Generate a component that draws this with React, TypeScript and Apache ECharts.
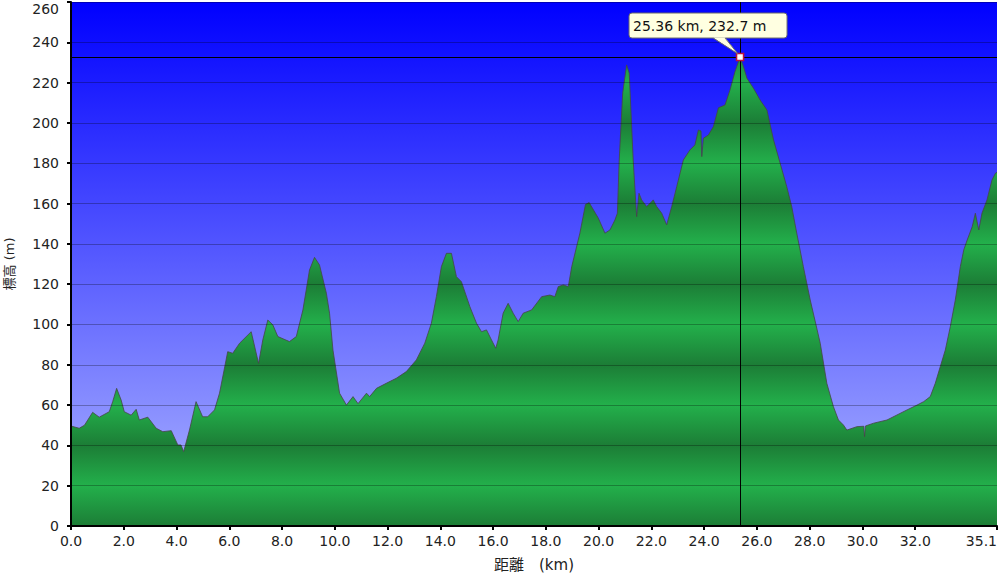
import React, { useEffect, useRef } from 'react';
import * as echarts from 'echarts';

// distance along the route (km)
const distKm = [
  0.0, 0.31, 0.51, 0.82, 1.07, 1.45, 1.58, 1.73, 1.9, 2.02, 2.28, 2.47, 2.59, 2.91, 3.23, 3.48, 3.8,
  4.05, 4.17, 4.27, 4.49, 4.74, 4.99, 5.18, 5.44, 5.63, 5.94, 6.13, 6.39, 6.83, 7.11, 7.27, 7.46,
  7.65, 7.84, 8.28, 8.54, 8.79, 9.04, 9.23, 9.42, 9.68, 9.8, 9.93, 10.18, 10.44, 10.69, 10.88, 11.2,
  11.32, 11.58, 11.95, 12.33, 12.71, 13.09, 13.41, 13.66, 13.85, 14.04, 14.23, 14.42, 14.61, 14.8,
  15.12, 15.37, 15.56, 15.75, 15.94, 16.1, 16.19, 16.38, 16.57, 16.76, 16.95, 17.14, 17.46, 17.84,
  18.15, 18.34, 18.47, 18.66, 18.85, 18.98, 19.29, 19.5, 19.64, 19.99, 20.24, 20.43, 20.62, 20.71,
  20.78, 20.91, 21.06, 21.16, 21.31, 21.44, 21.53, 21.63, 21.82, 21.95, 22.07, 22.2, 22.39, 22.58,
  22.77, 22.96, 23.21, 23.46, 23.65, 23.78, 23.88, 23.91, 23.97, 24.16, 24.35, 24.54, 24.79, 24.98,
  25.17, 25.36, 25.49, 25.62, 25.87, 26.12, 26.38, 26.63, 26.88, 27.13, 27.32, 27.51, 27.76, 28.02,
  28.4, 28.65, 28.9, 29.09, 29.28, 29.41, 29.79, 30.05, 30.08, 30.11, 30.42, 30.93, 31.31, 31.69,
  32.07, 32.32, 32.57, 32.76, 32.95, 33.14, 33.33, 33.52, 33.71, 33.84, 33.97, 34.16, 34.28, 34.41,
  34.53, 34.72, 34.91, 35.04, 35.1,
];

// elevation (m)
const elevM = [
  49.6, 48.5, 50, 56.4, 54, 56.7, 61.7, 68.3, 62.5, 56.7, 55, 57.9, 52.6, 54, 48.5, 46.8, 47.3,
  40.2, 40.2, 36.9, 47.6, 61.7, 54.2, 54.2, 57.6, 65.9, 86.5, 85.7, 90.7, 96.4, 80.7, 92.3, 102.2,
  99.8, 94, 91.5, 94, 107.2, 127, 133.3, 129.5, 115.5, 105.6, 87.3, 65.9, 60, 64.2, 60.7, 65.9,
  64.2, 68.3, 70.8, 73.3, 76.6, 82.4, 90.7, 100.6, 113.8, 128.7, 135.3, 135.3, 123.7, 121.2,
  108.8, 100.6, 96.4, 97.3, 92.3, 88.2, 92.3, 105.6, 110.5, 105.6, 101.4, 105.6, 107.2, 113.8,
  114.6, 113.8, 118.8, 119.6, 118.8, 128.7, 145.3, 159.5, 160.5, 152.7, 145.3, 146.9, 151.9, 155.2,
  181.6, 214.7, 228.8, 224.7, 181.6, 153.5, 165.1, 161.8, 158.5, 160.1, 161.8, 158.5, 155.2, 149.4,
  158.5, 168.4, 181.6, 186.6, 189.1, 196.5, 196, 183.3, 192.4, 194, 198.2, 207.5, 208.9, 216.4,
  225.5, 232.7, 228, 222.2, 217.2, 211.4, 206.4, 191.6, 180, 168.4, 158.5, 145.3, 128.7, 112.2,
  90.7, 70.8, 59.2, 52.6, 50.1, 47.6, 49.3, 49.5, 44.3, 49.6, 51, 52.6, 55.1, 57.6,
  60, 61.7, 64.2, 70.8, 79.1, 87.3, 98.9, 112.2, 128.7, 137, 141.9, 148.5, 155.2, 146.9,
  155.2, 161.8, 171.7, 175, 175.5,
];

const xLabelValues = [0, 2, 4, 6, 8, 10, 12, 14, 16, 18, 20, 22, 24, 26, 28, 30, 32, 35.1];
const xMax = 35.1;
const yMax = 260;
const yStep = 20;
const cursorKm = 25.36;
const cursorElev = 232.7;
const cursorLabel = '25.36 km, 232.7 m';
const xTitle = '距離　(km)';
const yTitle = '標高 (m)';

export default function App() {
  const ref = useRef<HTMLDivElement>(null);
  useEffect(() => {
    document.body.style.margin = '0';
    const chart = echarts.init(ref.current as HTMLDivElement, null, { renderer: 'svg' });
    const fontFamily = "'DejaVu Sans', 'Noto Sans CJK JP', sans-serif";
    const H = 581;
    const gridTop = 2;
    const gridBottom = 55;
    const plotBottom = H - gridBottom;

    const dark = '#1c7d36';
    const light = '#23b04b';
    const stops: { offset: number; color: string }[] = [];
    for (let v = yMax; v >= 0; v -= yStep) {
      stops.push({ offset: (yMax - v) / yMax, color: v % 40 === 0 ? dark : light });
    }
    const green = new echarts.graphic.LinearGradient(0, gridTop, 0, plotBottom, stops, true);
    const blue = new echarts.graphic.LinearGradient(0, 0, 0, 1, [
      { offset: 0, color: '#0000ff' },
      { offset: 1, color: '#b0b8ff' },
    ]);

    const data = distKm.map((d, i) => [d, elevM[i]]);

    chart.setOption({
      animation: false,
      textStyle: { fontFamily },
      grid: {
        left: 71,
        right: 3,
        top: gridTop,
        bottom: gridBottom,
        containLabel: false,
        outerBoundsMode: 'none',
        show: true,
        backgroundColor: blue,
        borderWidth: 0,
      },
      xAxis: {
        type: 'value',
        min: 0,
        max: xMax,
        interval: 2,
        z: 10,
        name: xTitle,
        nameLocation: 'middle',
        nameGap: 31,
        nameTextStyle: { fontSize: 15, color: '#222', fontFamily },
        axisLine: { show: true, onZero: false, lineStyle: { color: '#000', width: 2 } },
        axisTick: { show: true, length: 4, lineStyle: { color: '#000', width: 2 }, customValues: xLabelValues },
        axisLabel: {
          customValues: xLabelValues,
          formatter: (v: number) => v.toFixed(1),
          fontSize: 14,
          color: '#222',
          margin: 8,
          fontFamily,
          hideOverlap: false,
          alignMaxLabel: 'right',
        },
        splitLine: { show: false },
      },
      yAxis: {
        type: 'value',
        min: 0,
        max: yMax,
        interval: yStep,
        z: 10,
        name: yTitle,
        nameLocation: 'middle',
        nameGap: 55,
        nameRotate: 90,
        nameTextStyle: { fontSize: 13, color: '#222', fontFamily },
        axisLine: { show: true, onZero: false, lineStyle: { color: '#000', width: 2 } },
        axisTick: { show: true, length: 4, lineStyle: { color: '#000', width: 2 } },
        axisLabel: { fontSize: 14, color: '#222', margin: 12, fontFamily, verticalAlignMaxLabel: 'top' },
        splitLine: { show: true, lineStyle: { color: 'rgba(0,0,0,0.28)', width: 1 } },
      },
      series: [
        {
          type: 'line',
          data,
          showSymbol: false,
          smooth: false,
          lineStyle: { color: 'rgba(70,70,70,0.8)', width: 1 },
          areaStyle: { color: green, opacity: 1 },
          markLine: {
            silent: true,
            symbol: ['none', 'none'],
            label: { show: false },
            lineStyle: { color: '#000', width: 1, type: 'solid' },
            data: [{ xAxis: cursorKm }, { yAxis: cursorElev }],
          },
          markPoint: {
            symbol: 'rect',
            symbolSize: 7,
            itemStyle: { color: '#ffffff', borderColor: '#c0103a', borderWidth: 1.5 },
            label: { show: false },
            data: [{ coord: [cursorKm, cursorElev] }],
          },
        },
      ],
    });

    const p = chart.convertToPixel({ seriesIndex: 0 }, [cursorKm, cursorElev]) as number[];
    const px = p[0];
    const py = p[1];
    chart.setOption({
      graphic: [
        {
          type: 'rect',
          z: 100,
          shape: { x: px - 111, y: py - 44, width: 158, height: 25, r: 3 },
          style: { fill: '#ffffe1', stroke: '#6d6d6d', lineWidth: 1 },
        },
        {
          type: 'polygon',
          z: 101,
          shape: { points: [[px - 27, py - 19.6], [px - 15, py - 19.6], [px - 2, py - 3]] },
          style: { fill: '#ffffe1', stroke: null },
        },
        {
          type: 'polyline',
          z: 102,
          shape: { points: [[px - 27, py - 19], [px - 2, py - 3], [px - 15, py - 19]] },
          style: { fill: null, stroke: '#6d6d6d', lineWidth: 1 },
        },
        {
          type: 'text',
          z: 103,
          x: px - 107,
          y: py - 31,
          style: {
            text: cursorLabel,
            fill: '#111',
            fontSize: 14,
            fontFamily,
            verticalAlign: 'middle',
            align: 'left',
          },
        },
      ],
    });

    return () => {
      chart.dispose();
    };
  }, []);

  return <div ref={ref} style={{ width: 1000, height: 581 }} />;
}
